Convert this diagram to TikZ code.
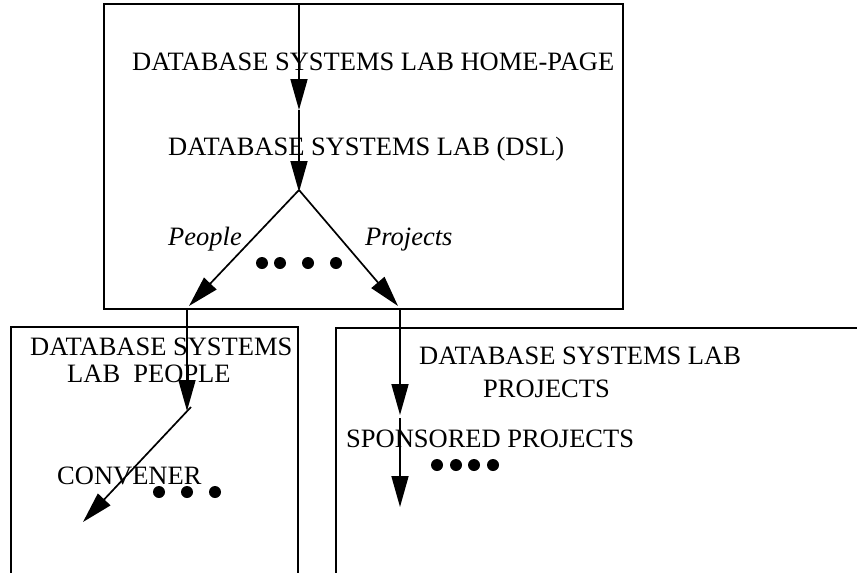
\documentclass[tikz,border=0pt]{standalone}
\usepackage{fontspec}
\setmainfont{Liberation Serif}
\usetikzlibrary{arrows.meta}
\begin{document}
\begin{tikzpicture}[x=1pt,y=-1pt,
  frame/.style={line width=1.8pt, line join=miter},
  link/.style={line width=1.7pt, -{Triangle[length=31pt,width=17pt]}},
  label/.style={inner sep=0pt, anchor=base west, font=\fontsize{26.5}{30}\selectfont},
  slant/.style={label, font=\fontsize{26.5}{30}\selectfont\itshape},
  dot/.style={circle, fill=black, inner sep=0pt, minimum size=12pt}]
\useasboundingbox (0,0) rectangle (857,573);
\clip (0,0) rectangle (857,573);

% frames
\draw[frame] (104,4) rectangle (623,309);
\draw[frame] (11,590) -- (11,327) -- (298,327) -- (298,590);
\draw[frame] (336,590) -- (336,328) -- (870,328);

% page titles
\node[label] (home) at (132,70) {DATABASE SYSTEMS LAB HOME-PAGE};
\node[label] (dsl) at (168,155) {DATABASE SYSTEMS LAB (DSL)};
\node[slant] (plab) at (168,245) {People};
\node[slant] (jlab) at (365,245) {Projects};

\node[label] (pt1) at (30,355) {DATABASE SYSTEMS};
\node[label] (pt2) at (67,382) {LAB\ \ PEOPLE};
\node[label] (conv) at (57,484) {CONVENER};

\node[label] (jt1) at (419,364) {DATABASE SYSTEMS LAB};
\node[label] (jt2) at (483,397) {PROJECTS};
\node[label] (spon) at (346,447) {SPONSORED PROJECTS};

% ellipsis dots
\foreach \x in {262,280,308,336} \node[dot] at (\x,263) {};
\foreach \x in {159,187,215} \node[dot] at (\x,492) {};
\foreach \x in {437,456,474,493} \node[dot] at (\x,465) {};

% link anchors
\coordinate (entry) at (299,4);
\coordinate (homeIn) at (299,110);
\coordinate (dslIn) at (299,192);
\coordinate (fork) at (299,190);
\coordinate (peopleIn) at (189,306);
\coordinate (projIn) at (398,306);
\coordinate (peopleTop) at (187,309);
\coordinate (peopleOut) at (187,411);
\coordinate (convStart) at (191,407);
\coordinate (convIn) at (83,522);
\coordinate (projTop) at (400,309);
\coordinate (projOut) at (400,415);
\coordinate (sponStart) at (400,418);
\coordinate (sponIn) at (400,507);

% links
\draw[link] (entry) -- (homeIn);
\draw[link] (homeIn) -- (dslIn);
\draw[link] (fork) -- (peopleIn);
\draw[link] (fork) -- (projIn);
\draw[link] (peopleTop) -- (peopleOut);
\draw[link] (convStart) -- (convIn);
\draw[link] (projTop) -- (projOut);
\draw[link] (sponStart) -- (sponIn);
\end{tikzpicture}
\end{document}
